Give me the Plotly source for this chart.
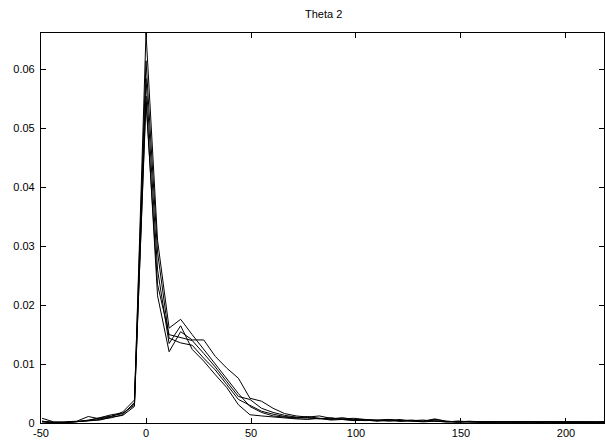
import plotly.graph_objects as go

# bin centres (degrees)
x_bins = [-49.5, -44, -38.5, -33, -27.5, -22, -16.5, -11, -5.5, 0,
          5.5, 11, 16.5, 22, 27.5, 33, 38.5, 44, 49.5, 55,
          60.5, 66, 71.5, 77, 82.5, 88, 93.5, 99, 104.5, 110,
          115.5, 121, 126.5, 132, 137.5, 143, 148.5, 154, 159.5, 165,
          170.5, 176, 181.5, 187, 192.5, 198, 203.5, 209, 214.5, 220]

run1 = [0.0003, 0.0001, 0.0001, 0.0002, 0.0005, 0.0008, 0.0012, 0.0016, 0.0033,
        0.0662,
        0.031, 0.0161, 0.0176, 0.0150, 0.0125, 0.0100, 0.0075, 0.0050, 0.0028, 0.0018,
        0.0012, 0.0010, 0.0008, 0.0009, 0.0007, 0.0006, 0.0007, 0.0005, 0.0006, 0.0004,
        0.0005, 0.0003, 0.0004, 0.0003, 0.0004, 0.0002, 0.0003, 0.0002, 0.0002, 0.0001,
        0.0002, 0.0002, 0.0001, 0.0001, 0.0002, 0.0001, 0.0001, 0.0002, 0.0001, 0.0002]

run2 = [0.0008, 0.0002, 0.0001, 0.0002, 0.0003, 0.0005, 0.0010, 0.0013, 0.0028,
        0.0555,
        0.0216, 0.0121, 0.0155, 0.0141, 0.0141, 0.0113, 0.0093, 0.0076, 0.0042, 0.0037,
        0.0025, 0.0016, 0.0012, 0.0010, 0.0012, 0.0008, 0.0007, 0.0008, 0.0006, 0.0005,
        0.0006, 0.0004, 0.0005, 0.0003, 0.0006, 0.0003, 0.0002, 0.0003, 0.0002, 0.0002,
        0.0001, 0.0002, 0.0001, 0.0002, 0.0001, 0.0001, 0.0002, 0.0001, 0.0002, 0.0003]

run3 = [0.0002, 0.0001, 0.0002, 0.0003, 0.0011, 0.0007, 0.0011, 0.0019, 0.0039,
        0.0615,
        0.029, 0.0144, 0.0136, 0.0132, 0.0110, 0.0090, 0.0065, 0.0040, 0.0030, 0.0020,
        0.0015, 0.0011, 0.0009, 0.0011, 0.0008, 0.0007, 0.0009, 0.0006, 0.0005, 0.0004,
        0.0006, 0.0003, 0.0004, 0.0005, 0.0003, 0.0002, 0.0003, 0.0002, 0.0001, 0.0002,
        0.0001, 0.0001, 0.0002, 0.0001, 0.0002, 0.0001, 0.0002, 0.0001, 0.0001, 0.0002]

run4 = [0.0003, 0.0001, 0.0001, 0.0002, 0.0004, 0.0009, 0.0014, 0.0017, 0.0030,
        0.0585,
        0.026, 0.0135, 0.0165, 0.0125, 0.0105, 0.0082, 0.0060, 0.0031, 0.0014, 0.0012,
        0.0010, 0.0009, 0.0007, 0.0006, 0.0008, 0.0005, 0.0006, 0.0004, 0.0005, 0.0003,
        0.0004, 0.0006, 0.0003, 0.0002, 0.0003, 0.0002, 0.0001, 0.0002, 0.0002, 0.0001,
        0.0001, 0.0002, 0.0001, 0.0001, 0.0001, 0.0002, 0.0001, 0.0001, 0.0001, 0.0001]

run5 = [0.0002, 0.0000, 0.0001, 0.0002, 0.0004, 0.0006, 0.0009, 0.0014, 0.0035,
        0.0545,
        0.0235, 0.0150, 0.0145, 0.0140, 0.0118, 0.0095, 0.0070, 0.0045, 0.0040, 0.0025,
        0.0018, 0.0013, 0.0010, 0.0008, 0.0007, 0.0009, 0.0006, 0.0005, 0.0004, 0.0005,
        0.0003, 0.0004, 0.0003, 0.0003, 0.0007, 0.0003, 0.0002, 0.0002, 0.0001, 0.0002,
        0.0001, 0.0001, 0.0002, 0.0001, 0.0001, 0.0002, 0.0002, 0.0001, 0.0001, 0.0001]

x_tick_vals = [-50, 0, 50, 100, 150, 200]
x_tick_text = ["-50", "0", "50", "100", "150", "200"]
y_tick_vals = [0, 0.01, 0.02, 0.03, 0.04, 0.05, 0.06]
y_tick_text = ["0", "0.01", "0.02", "0.03", "0.04", "0.05", "0.06"]

fig = go.Figure()
for run in [run1, run2, run3, run4, run5]:
    fig.add_trace(go.Scatter(x=x_bins, y=run, mode="lines",
                             line=dict(color="black", width=1),
                             showlegend=False, hoverinfo="skip"))

axis_common = dict(showline=True, linecolor="black", linewidth=1.2, mirror="ticks",
                   ticks="inside", ticklen=5, tickcolor="black", tickwidth=1,
                   showgrid=False, zeroline=False,
                   tickfont=dict(family="Liberation Sans, Arial, sans-serif", size=11, color="black"))

fig.update_layout(
    width=605, height=441,
    margin=dict(l=41, r=1, t=33, b=18),
    paper_bgcolor="white", plot_bgcolor="white",
    title=dict(text="Theta 2", x=0.535, xanchor="center", y=0.967, yanchor="middle",
               font=dict(family="Liberation Sans, Arial, sans-serif", size=11, color="black")),
    xaxis=dict(range=[-50, 218.1], tickmode="array", tickvals=x_tick_vals, ticktext=x_tick_text,
               **axis_common),
    yaxis=dict(range=[0, 0.0662], tickmode="array", tickvals=y_tick_vals, ticktext=y_tick_text,
               ticklabelstandoff=3, **axis_common),
)

fig.write_html("out.html")
